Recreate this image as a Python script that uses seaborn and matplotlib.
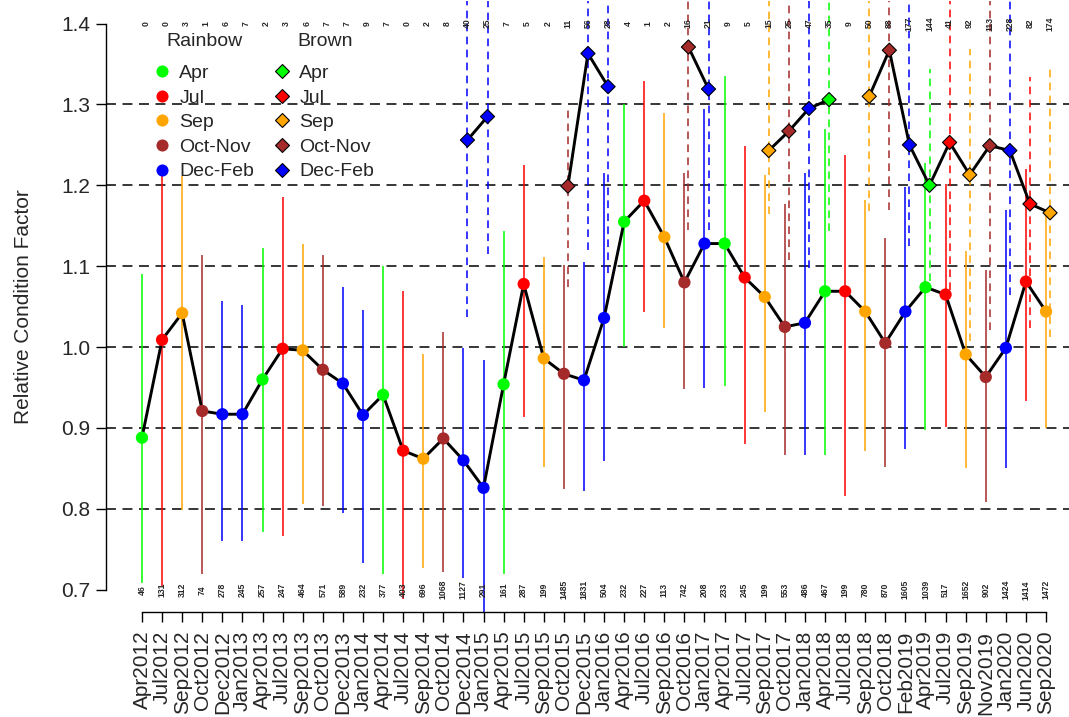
import numpy as np
import pandas as pd
import matplotlib
matplotlib.use("Agg")
import matplotlib.pyplot as plt
from matplotlib.lines import Line2D
import seaborn as sns

# Sampling periods along the x axis
periods = ["Apr2012", "Jul2012", "Sep2012", "Oct2012", "Dec2012", "Jan2013", "Apr2013",
           "Jul2013", "Sep2013", "Oct2013", "Dec2013", "Jan2014", "Apr2014", "Jul2014",
           "Sep2014", "Oct2014", "Dec2014", "Jan2015", "Apr2015", "Jul2015", "Sep2015",
           "Oct2015", "Dec2015", "Jan2016", "Apr2016", "Jul2016", "Sep2016", "Oct2016",
           "Jan2017", "Apr2017", "Jul2017", "Sep2017", "Oct2017", "Jan2018", "Apr2018",
           "Jul2018", "Sep2018", "Oct2018", "Feb2019", "Apr2019", "Jul2019", "Sep2019",
           "Nov2019", "Jan2020", "Jun2020", "Sep2020"]

# Rainbow trout: mean relative condition factor, interval limits, sample size
rainbow_mean = [0.888, 1.009, 1.042, 0.921, 0.917, 0.917, 0.960, 0.998, 0.996, 0.972,
                0.955, 0.916, 0.941, 0.872, 0.862, 0.887, 0.860, 0.826, 0.954, 1.078,
                0.986, 0.967, 0.959, 1.036, 1.155, 1.181, 1.136, 1.080, 1.128, 1.128,
                1.086, 1.062, 1.025, 1.030, 1.069, 1.069, 1.044, 1.005, 1.044, 1.074,
                1.065, 0.991, 0.963, 0.999, 1.081, 1.044]
rainbow_lo = [0.708, 0.705, 0.798, 0.719, 0.760, 0.760, 0.771, 0.766, 0.806, 0.803,
              0.795, 0.733, 0.720, 0.688, 0.727, 0.722, 0.715, 0.660, 0.719, 0.914,
              0.852, 0.825, 0.822, 0.859, 1.000, 1.043, 1.024, 0.948, 0.950, 0.952,
              0.880, 0.920, 0.867, 0.867, 0.866, 0.816, 0.872, 0.852, 0.874, 0.897,
              0.901, 0.850, 0.808, 0.850, 0.933, 0.900]
rainbow_hi = [1.090, 1.215, 1.212, 1.114, 1.057, 1.052, 1.122, 1.185, 1.127, 1.114,
              1.074, 1.046, 1.100, 1.069, 0.992, 1.019, 0.999, 0.984, 1.143, 1.225,
              1.111, 1.101, 1.105, 1.215, 1.301, 1.329, 1.290, 1.215, 1.294, 1.335,
              1.249, 1.213, 1.177, 1.215, 1.270, 1.238, 1.182, 1.135, 1.198, 1.227,
              1.202, 1.119, 1.095, 1.169, 1.220, 1.164]
rainbow_n = [46, 131, 312, 74, 278, 245, 257, 247, 464, 571, 589, 232, 377, 403, 696,
             1068, 1127, 291, 161, 287, 199, 1485, 1831, 504, 232, 227, 113, 742, 208,
             233, 245, 199, 553, 486, 467, 199, 780, 870, 1605, 1039, 517, 1652, 902,
             1424, 1414, 1472]

# Brown trout: only periods with at least 10 fish carry a mean
nan = np.nan
brown_mean = [nan, nan, nan, nan, nan, nan, nan, nan, nan, nan, nan, nan, nan, nan,
              nan, nan, 1.256, 1.285, nan, nan, nan, 1.199, 1.363, 1.322, nan, nan,
              nan, 1.371, 1.319, nan, nan, 1.243, 1.267, 1.295, 1.306, nan, 1.310,
              1.367, 1.250, 1.200, 1.253, 1.213, 1.249, 1.243, 1.177, 1.166]
brown_lo = [nan, nan, nan, nan, nan, nan, nan, nan, nan, nan, nan, nan, nan, nan,
            nan, nan, 1.037, 1.115, nan, nan, nan, 1.074, 1.120, 1.092, nan, nan,
            nan, 1.145, 1.145, nan, nan, 1.165, 1.108, 1.098, 1.144, nan, 1.168,
            1.169, 1.125, 1.082, 1.070, 1.007, 1.021, 1.064, 1.024, 1.013]
brown_hi = [nan, nan, nan, nan, nan, nan, nan, nan, nan, nan, nan, nan, nan, nan,
            nan, nan, 1.475, 1.455, nan, nan, nan, 1.298, 1.606, 1.552, nan, nan,
            nan, 1.597, 1.493, nan, nan, 1.450, 1.440, 1.490, 1.470, nan, 1.450,
            1.560, 1.440, 1.344, 1.440, 1.368, 1.480, 1.440, 1.334, 1.349]
brown_n = [0, 0, 3, 1, 6, 7, 2, 3, 6, 7, 7, 9, 7, 0, 2, 8, 40, 25, 7, 5, 2, 11, 56,
           28, 4, 1, 2, 16, 21, 9, 5, 15, 25, 47, 35, 9, 50, 88, 177, 144, 41, 92,
           113, 228, 82, 174]

season_order = ["Apr", "Jul", "Sep", "Oct-Nov", "Dec-Feb"]
season_colors = {"Apr": "#00FF00", "Jul": "#FF0000", "Sep": "#FFA500",
                 "Oct-Nov": "#A52A2A", "Dec-Feb": "#0000FF"}
month_to_season = {"Apr": "Apr", "Jun": "Jul", "Jul": "Jul", "Sep": "Sep",
                   "Oct": "Oct-Nov", "Nov": "Oct-Nov", "Dec": "Dec-Feb",
                   "Jan": "Dec-Feb", "Feb": "Dec-Feb"}

yticks = [0.7, 0.8, 0.9, 1.0, 1.1, 1.2, 1.3, 1.4]

# ---------------------------------------------------------------------------
pos = np.arange(len(periods), dtype=float)
shift = 0.2  # brown trout drawn slightly to the right of rainbow trout
season = [month_to_season[p[:3]] for p in periods]
df = pd.DataFrame({
    "pos": pos, "pos_b": pos + shift, "season": season,
    "r_mean": rainbow_mean, "r_lo": rainbow_lo, "r_hi": rainbow_hi,
    "b_mean": brown_mean, "b_lo": brown_lo, "b_hi": brown_hi,
})
df["color"] = df["season"].map(season_colors)

sns.set_style("ticks")
plt.rcParams["font.family"] = ["Liberation Sans", "DejaVu Sans"]
plt.rcParams["axes.linewidth"] = 1.0

W, H = 1069, 717
fig = plt.figure(figsize=(W / 100, H / 100), dpi=100)
left_px, right_px, top_px, bot_px = 105.8, 1082.2, 0.9, 612.4
ax = fig.add_axes([left_px / W, (H - bot_px) / H, (right_px - left_px) / W, (bot_px - top_px) / H])
ax.set_xlim(-1.8, 46.8)
ax.set_ylim(0.672, 1.428)

# horizontal reference lines
for yv in yticks[1:-1]:
    ax.axhline(yv, color="black", lw=1.1, ls=(0, (6.5, 4.3)), zorder=1)

# interval bars
ax.vlines(df["pos"], df["r_lo"], df["r_hi"], colors=df["color"], lw=1.1, zorder=2)
bd = df.dropna(subset=["b_mean"])
ax.vlines(bd["pos_b"], bd["b_lo"], bd["b_hi"], colors=bd["color"], lw=1.1,
          linestyles=(0, (5, 3.5)), zorder=2)

# connecting lines (gaps where brown trout were too few)
ax.plot(df["pos"], df["r_mean"], color="black", lw=2.1, zorder=3)
ax.plot(df["pos_b"], df["b_mean"], color="black", lw=2.1, zorder=3)

# points
sns.scatterplot(data=df, x="pos", y="r_mean", hue="season", palette=season_colors,
                hue_order=season_order, s=78, linewidth=0, legend=False, ax=ax, zorder=4)
sns.scatterplot(data=bd, x="pos_b", y="b_mean", hue="season", palette=season_colors,
                hue_order=season_order, marker="D", s=52, edgecolor="black",
                linewidth=0.8, legend=False, ax=ax, zorder=5)

# sample sizes
for p, n in zip(pos, rainbow_n):
    ax.text(p, 0.7, str(n), rotation=90, ha="center", va="center", fontsize=6.2,
            fontweight="bold", zorder=6)
for p, n in zip(pos + shift, brown_n):
    ax.text(p, 1.4, str(n), rotation=90, ha="center", va="center", fontsize=6.2,
            fontweight="bold", zorder=6)

# axes
ax.set_xticks(pos)
ax.set_xticklabels(periods, rotation=90, fontsize=15)
ax.set_yticks(yticks)
ax.set_yticklabels([f"{v:.1f}" for v in yticks], fontsize=15)
ax.tick_params(axis="both", length=7.2, width=1.0, color="black")
ax.tick_params(axis="x", pad=6)
ax.tick_params(axis="y", pad=4)
for s in ["top", "right"]:
    ax.spines[s].set_visible(False)
ax.spines["left"].set_bounds(0.7, 1.4)
ax.spines["bottom"].set_bounds(0, len(periods) - 1)
ax.spines["left"].set_color("black")
ax.spines["bottom"].set_color("black")
ax.set_xlabel("")
ax.set_ylabel("Relative Condition Factor", fontsize=15, labelpad=20)

# legends: one column per species, headers above
r_handles = [Line2D([], [], ls="none", marker="o", markersize=8.7, markeredgewidth=0,
                    markerfacecolor=season_colors[s]) for s in season_order]
b_handles = [Line2D([], [], ls="none", marker="D", markersize=7.2, markeredgewidth=0.8,
                    markeredgecolor="black", markerfacecolor=season_colors[s])
             for s in season_order]
common = dict(loc="upper left", bbox_transform=fig.transFigure, frameon=False,
              fontsize=14, handlelength=0.8, handletextpad=0.5,
              labelspacing=0.36, borderpad=0, borderaxespad=0)
leg1 = ax.legend(r_handles, season_order, bbox_to_anchor=(154 / W, 1 - 64.3 / H), **common)
ax.add_artist(leg1)
leg2 = ax.legend(b_handles, season_order, bbox_to_anchor=(274 / W, 1 - 64.3 / H), **common)
fig.text(205 / W, 1 - 41.7 / H, "Rainbow", fontsize=14, ha="center", va="center")
fig.text(325.5 / W, 1 - 41.7 / H, "Brown", fontsize=14, ha="center", va="center")

fig.savefig("out.png", dpi=100)
